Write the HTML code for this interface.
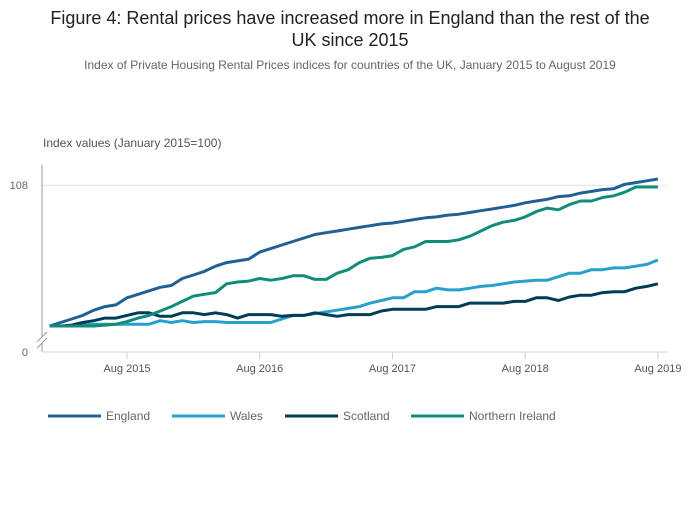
<!DOCTYPE html>
<html><head><meta charset="utf-8"><style>
body{margin:0;background:#fff;font-family:"Liberation Sans",sans-serif;}
svg text{font-family:"Liberation Sans",sans-serif;}
</style></head><body>
<svg id="chart" width="700" height="502" viewBox="0 0 700 502" xmlns="http://www.w3.org/2000/svg">
<text x="350" y="24" text-anchor="middle" font-size="18" fill="#222">Figure 4: Rental prices have increased more in England than the rest of the</text>
<text x="350" y="46" text-anchor="middle" font-size="18" fill="#222">UK since 2015</text>
<text x="350" y="69" text-anchor="middle" font-size="12" fill="#666">Index of Private Housing Rental Prices indices for countries of the UK, January 2015 to August 2019</text>
<text x="43" y="147" font-size="12" fill="#555">Index values (January 2015=100)</text>
<g id="axes"></g>
<g id="series"></g>
<g id="legend"></g>
</svg>
<script>
const seriesNames = ["England","Wales","Scotland","Northern Ireland"];
const seriesColors = ["#206095","#27a0cc","#003c57","#118c7b"];
const xTickLabels = ["Aug 2015","Aug 2016","Aug 2017","Aug 2018","Aug 2019"];
const xTickMonths = [7,19,31,43,55];
const yTickValues = [108];
const england = [100.0,100.2,100.4,100.6,100.9,101.1,101.2,101.6,101.8,102.0,102.2,102.3,102.7,102.9,103.1,103.4,103.6,103.7,103.8,104.2,104.4,104.6,104.8,105.0,105.2,105.3,105.4,105.5,105.6,105.7,105.8,105.85,105.95,106.05,106.15,106.2,106.3,106.35,106.45,106.55,106.65,106.75,106.85,107.0,107.1,107.2,107.35,107.4,107.55,107.65,107.75,107.8,108.05,108.15,108.25,108.35];
const wales = [100,100,100,100.05,100.1,100.1,100.1,100.1,100.1,100.1,100.3,100.2,100.3,100.2,100.25,100.25,100.2,100.2,100.2,100.2,100.2,100.4,100.6,100.6,100.7,100.8,100.9,101.0,101.1,101.3,101.45,101.6,101.6,101.95,101.95,102.15,102.05,102.05,102.15,102.25,102.3,102.4,102.5,102.55,102.6,102.6,102.8,103.0,103.0,103.2,103.2,103.3,103.3,103.4,103.5,103.75];
const scotland = [100,100,100.05,100.2,100.3,100.45,100.45,100.6,100.75,100.75,100.55,100.55,100.75,100.75,100.65,100.75,100.65,100.45,100.65,100.65,100.65,100.55,100.6,100.6,100.75,100.65,100.55,100.65,100.65,100.65,100.85,100.95,100.95,100.95,100.95,101.1,101.1,101.1,101.3,101.3,101.3,101.3,101.4,101.4,101.6,101.6,101.45,101.65,101.75,101.75,101.9,101.95,101.95,102.15,102.25,102.4];
const northernIreland = [100,100,100,100,100,100.05,100.1,100.25,100.45,100.6,100.85,101.1,101.4,101.7,101.8,101.9,102.4,102.5,102.55,102.7,102.6,102.7,102.85,102.85,102.65,102.65,103.0,103.2,103.6,103.85,103.9,104.0,104.35,104.5,104.8,104.8,104.8,104.9,105.1,105.4,105.7,105.9,106.0,106.2,106.5,106.7,106.6,106.9,107.1,107.1,107.3,107.4,107.6,107.9,107.9,107.9];
const allSeries = [england,wales,scotland,northernIreland];

const NS="http://www.w3.org/2000/svg";
function xScale(i){return 49.6+i*11.06;}
function yScale(v){return 326-(v-100)*17.6;}
function mk(tag,attrs,parent){const e=document.createElementNS(NS,tag);for(const k in attrs)e.setAttribute(k,attrs[k]);parent.appendChild(e);return e;}
const axes=document.getElementById('axes');
yTickValues.forEach(v=>{
  const g=mk('line',{x1:42,x2:668,y1:yScale(v),y2:yScale(v),stroke:'#e4e4e4','stroke-width':1},axes);
  
  
  const t=mk('text',{x:28,y:yScale(v)+4,'text-anchor':'end','font-size':11,fill:'#666'},axes);
  t.textContent=v;
  
  
});
const ya=mk('line',{x1:42,x2:42,y1:165,y2:337,stroke:'#999','stroke-width':1},axes);


const ya2=mk('line',{x1:42,x2:42,y1:343,y2:352,stroke:'#999','stroke-width':1},axes);


const br=mk('path',{d:'M37,342 L47,332 M37,348 L47,338',stroke:'#999','stroke-width':1,fill:'none'},axes);


const t0=mk('text',{x:28,y:356,'text-anchor':'end','font-size':11,fill:'#666'},axes);
t0.textContent='0';


const xa=mk('line',{x1:42,x2:668,y1:352,y2:352,stroke:'#c8d4e6','stroke-width':1},axes);


xTickMonths.forEach((m,k)=>{
  const x=xScale(m);
  const tk=mk('line',{x1:x,x2:x,y1:352,y2:359,stroke:'#c8d4e6','stroke-width':1},axes);
  
  
  const t=mk('text',{x:x,y:372,'text-anchor':'middle','font-size':11,fill:'#555'},axes);
  t.textContent=xTickLabels[k];
  
  
});
const sg=document.getElementById('series');
allSeries.forEach((data,s)=>{
  const d=data.map((v,i)=>(i?'L':'M')+xScale(i).toFixed(1)+','+yScale(v).toFixed(1)).join(' ');
  const p=mk('path',{d:d,fill:'none',stroke:seriesColors[s],'stroke-width':3,'stroke-linejoin':'round'},sg);
  
  
});
const lg=document.getElementById('legend');
const lx=[48,172,285,411];
seriesNames.forEach((n,s)=>{
  const l=mk('line',{x1:lx[s],x2:lx[s]+53,y1:416,y2:416,stroke:seriesColors[s],'stroke-width':3},lg);
  
  
  const t=mk('text',{x:lx[s]+58,y:420,'font-size':12,fill:'#666'},lg);
  t.textContent=n;
  
  
});
</script>
</body></html>
